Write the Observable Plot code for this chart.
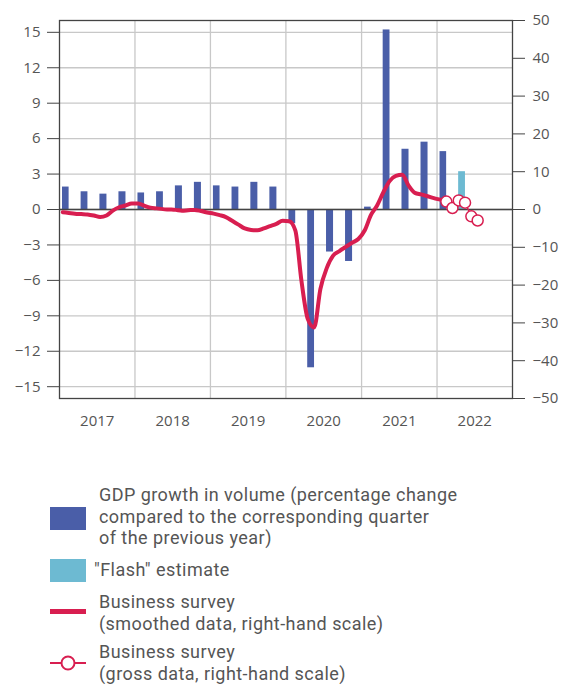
<!DOCTYPE html>
<html><head><meta charset="utf-8">
<script src="https://cdn.jsdelivr.net/npm/d3@7"></script>
<script src="https://cdn.jsdelivr.net/npm/@observablehq/plot@0.6"></script>
<style>
body{margin:0;background:#fff;font-family:"Open Sans",sans-serif;width:561px;height:684px;overflow:hidden;position:relative;}
#chart{position:absolute;left:0;top:0;}
.sw{position:absolute;}
.txt{position:absolute;font-family:Roboto,sans-serif;font-size:18px;letter-spacing:0.45px;line-height:21.5px;color:#555;white-space:nowrap;}
</style></head><body>
<div id="chart"></div>
<div class="sw" style="left:50px;top:507px;width:36px;height:23px;background:#4a5ea8"></div>
<div class="txt" style="left:99px;top:484px">GDP growth in volume (percentage change<br>compared to the corresponding quarter<br>of the previous year)</div>
<div class="sw" style="left:50px;top:559px;width:36px;height:23px;background:#6dbad2"></div>
<div class="txt" style="left:94px;top:559px">"Flash" estimate</div>
<div class="sw" style="left:50px;top:609px;width:36px;height:5px;background:#d81e50"></div>
<div class="txt" style="left:99px;top:591px">Business survey<br>(smoothed data, right-hand scale)</div>
<svg class="sw" style="left:48px;top:652px" width="40" height="22"><line x1="2" x2="38" y1="11" y2="11" stroke="#d81e50" stroke-width="2"/><circle cx="20" cy="11" r="6.5" fill="#fff" stroke="#d81e50" stroke-width="2"/></svg>
<div class="txt" style="left:99px;top:641px">Business survey<br>(gross data, right-hand scale)</div>
<script>
// Quarterly GDP growth (left scale, %)
const quarters = ["2017Q1","2017Q2","2017Q3","2017Q4","2018Q1","2018Q2","2018Q3","2018Q4","2019Q1","2019Q2","2019Q3","2019Q4","2020Q1","2020Q2","2020Q3","2020Q4","2021Q1","2021Q2","2021Q3","2021Q4","2022Q1"];
const gdpGrowth = [1.9,1.5,1.3,1.5, 1.4,1.5,2.0,2.3, 2.0,1.9,2.3,1.9, -1.2,-13.4,-3.6,-4.4, 0.2,15.2,5.1,5.7, 4.9];
const flashQuarter = ["2022Q2"];
const flashValue = [3.2];
// Business survey smoothed (right scale), monthly from Jan 2017
const surveyStart = "2017-01";
const surveySmoothed = [
  -0.7,-0.9,-1.1,-1.2,-1.3,-1.6,-2.0,-1.6,-0.3,0.6,1.05,1.6,
  1.6,1.0,0.5,0.3,0.1,0.0,-0.1,-0.3,-0.2,-0.1,-0.4,-0.8,
  -1.1,-1.5,-2.0,-3.0,-4.0,-5.0,-5.4,-5.5,-5.0,-4.4,-3.8,-3.0,
  -3.1,-5.5,-19,-29,-31.2,-21,-15.5,-12.2,-11,-9.9,-8.8,-7.8,
  -5.5,-1.5,1.0,4.5,7.5,8.9,9.2,6.3,4.4,4.0,3.5,3.0,
  2.6,2.2];
// Business survey gross (right scale)
const grossMonths = ["2022-02","2022-03","2022-04","2022-05","2022-06","2022-07"];
const surveyGross = [2.1,0.4,2.4,1.8,-1.8,-2.9];
// Axes
const leftTicks = [-15,-12,-9,-6,-3,0,3,6,9,12,15];
const rightTicks = [-50,-40,-30,-20,-10,0,10,20,30,40,50];
const years = [2017,2018,2019,2020,2021,2022];

const leftMax = 16, rightMax = 50, k = leftMax / rightMax;
const qStart = q => new Date(Date.UTC(+q.slice(0,4), (+q.slice(5)-1)*3, 1));
const qEnd = q => new Date(Date.UTC(+q.slice(0,4), (+q.slice(5))*3, 1));
const midMonth = (y, m) => new Date(Date.UTC(y, m, 1) + (Date.UTC(y, m+1, 1) - Date.UTC(y, m, 1)) / 2);

const gdpData = quarters.map((q,i) => ({s: qStart(q), e: qEnd(q), v: gdpGrowth[i]}));
const flashData = flashQuarter.map((q,i) => ({s: qStart(q), e: qEnd(q), v: flashValue[i]}));
const sy = +surveyStart.slice(0,4), sm = +surveyStart.slice(5)-1;
const smoothData = surveySmoothed.map((v,i) => ({d: midMonth(sy, sm+i), v}));
const grossData = grossMonths.map((m,i) => ({d: midMonth(+m.slice(0,4), +m.slice(5)-1), v: surveyGross[i]}));
const yearMids = years.map(y => new Date(Date.UTC(y,0,1) + (Date.UTC(y+1,0,1)-Date.UTC(y,0,1))/2));
const yearBounds = years.slice(1).map(y => new Date(Date.UTC(y,0,1)));
const fmt = d3.format("d");

const chart = Plot.plot({
  width: 561, height: 440,
  marginLeft: 59, marginRight: 49, marginTop: 20, marginBottom: 42,
  style: {fontFamily: "Open Sans, sans-serif", fontSize: "15px", background: "#fff"},
  x: {type: "utc", domain: [new Date(Date.UTC(2017,0,1)), new Date(Date.UTC(2023,0,1))]},
  y: {domain: [-leftMax, leftMax]},
  marks: [
    Plot.gridY(leftTicks, {stroke: "#c8c8c8", strokeOpacity: 1, strokeWidth: 1.3}),
    Plot.gridX(yearBounds, {stroke: "#c8c8c8", strokeOpacity: 1, strokeWidth: 1.3}),
    Plot.rectY(gdpData, {x1: "s", x2: "e", y: "v", fill: "#4a5ea8", insetLeft: 3, insetRight: 9}),
    Plot.rectY(flashData, {x1: "s", x2: "e", y: "v", fill: "#6dbad2", insetLeft: 3, insetRight: 9}),
    Plot.ruleY([0], {stroke: "#444", strokeWidth: 1.3}),
    Plot.line(smoothData, {x: "d", y: d => d.v * k, stroke: "#d81e50", strokeWidth: 4, curve: "monotone-x"}),
    Plot.line(grossData, {x: "d", y: d => d.v * k, stroke: "#d81e50", strokeWidth: 1.5}),
    Plot.dot(grossData, {x: "d", y: d => d.v * k, r: 5.5, fill: "#fff", stroke: "#d81e50", strokeWidth: 1.5}),
    Plot.axisY(leftTicks, {anchor: "left", tickSize: 12, tickPadding: 7, label: null, stroke: "#444", fill: "#555", fontSize: 15}),
    Plot.axisY(rightTicks.map(v => v * k), {anchor: "right", tickSize: 12, tickPadding: 8, label: null, tickFormat: d => fmt(Math.round(d / k)), stroke: "#444", fill: "#555", fontSize: 15}),
    Plot.axisX(yearMids, {anchor: "bottom", tickSize: 0, tickPadding: 17, label: null, tickFormat: d3.utcFormat("%Y"), fill: "#555", fontSize: 15}),
    Plot.frame({stroke: "#444", strokeWidth: 1.3})
  ]
});
document.getElementById("chart").appendChild(chart);
</script>
</body></html>
